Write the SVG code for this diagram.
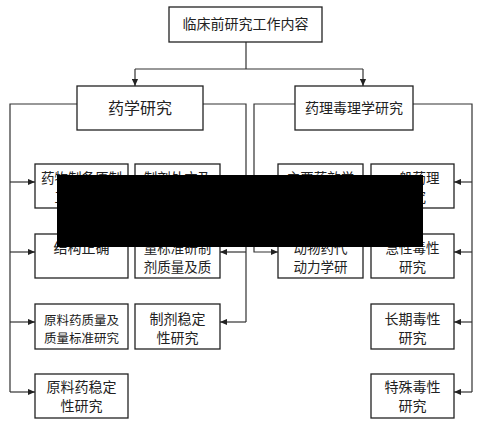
<svg xmlns="http://www.w3.org/2000/svg" width="481" height="423" viewBox="0 0 481 423">
<defs>
<style>
.box{fill:#fff;stroke:#222;stroke-width:1.3}
.t{font-family:"Noto Sans CJK SC","Noto Sans CJK JP",sans-serif;font-size:14px;fill:#222;text-anchor:middle}
.s{font-size:13.5px}
.c{fill:none;stroke:#333;stroke-width:1.2}
</style>
<marker id="a" viewBox="0 0 8 8" refX="8" refY="4" markerWidth="7" markerHeight="7" markerUnits="userSpaceOnUse" orient="auto"><path d="M0,0.5 L8,4 L0,7.5 Z" fill="#222"/></marker>
</defs>
<rect width="481" height="423" fill="#fff"/>
<g id="connectors">
<path class="c" d="M246 42 V69 M135 69 H363"/>
<path class="c" d="M135 69 V86" marker-end="url(#a)"/>
<path class="c" d="M363 69 V86" marker-end="url(#a)"/>
<path class="c" d="M77 104 H10 V392"/>
<path class="c" d="M10 182 H35" marker-end="url(#a)"/>
<path class="c" d="M10 252 H35" marker-end="url(#a)"/>
<path class="c" d="M10 322 H35" marker-end="url(#a)"/>
<path class="c" d="M10 392 H35" marker-end="url(#a)"/>
<path class="c" d="M203 104 H246 V322"/>
<path class="c" d="M246 252 H220" marker-end="url(#a)"/>
<path class="c" d="M246 322 H220" marker-end="url(#a)"/>
<path class="c" d="M295 104 H254 V252 H278" marker-end="url(#a)"/>
<path class="c" d="M413 104 H472 V392"/>
<path class="c" d="M472 182 H454" marker-end="url(#a)"/>
<path class="c" d="M472 252 H454" marker-end="url(#a)"/>
<path class="c" d="M472 322 H454" marker-end="url(#a)"/>
<path class="c" d="M472 392 H454" marker-end="url(#a)"/>
</g>
<g id="root"><rect class="box" x="169" y="7" width="153" height="35"/><text class="t" x="245.5" y="29">临床前研究工作内容</text></g>
<g id="pharm"><rect class="box" x="77" y="86" width="126" height="44"/><text class="t" x="140" y="114" style="font-size:16px">药学研究</text></g>
<g id="tox"><rect class="box" x="295" y="86" width="118" height="44"/><text class="t" x="354" y="113">药理毒理学研究</text></g>
<g id="l1"><rect class="box" x="35" y="164" width="93" height="44"/><text class="t s" x="81.5" y="183">药物制备原制</text><text class="t s" x="81.5" y="202">工艺研究</text></g>
<g id="l2"><rect class="box" x="135" y="164" width="85" height="44"/><text class="t s" x="177.5" y="183">制剂处方及</text><text class="t s" x="177.5" y="202">工艺研究</text></g>
<g id="l3"><rect class="box" x="35" y="234" width="93" height="44"/><text class="t" x="81.5" y="253">结构正确</text></g>
<g id="l4"><rect class="box" x="135" y="234" width="85" height="44"/><text class="t s" x="177.5" y="253">量标准研制</text><text class="t s" x="177.5" y="272">剂质量及质</text></g>
<g id="l5"><rect class="box" x="35" y="304" width="93" height="45"/><text class="t" x="81.5" y="325" style="font-size:12.5px">原料药质量及</text><text class="t" x="81.5" y="343" style="font-size:12.5px">质量标准研究</text></g>
<g id="l6"><rect class="box" x="135" y="304" width="85" height="45"/><text class="t" x="177.5" y="324">制剂稳定</text><text class="t" x="177.5" y="343">性研究</text></g>
<g id="l7"><rect class="box" x="35" y="374" width="93" height="44"/><text class="t" x="81.5" y="392">原料药稳定</text><text class="t" x="81.5" y="411">性研究</text></g>
<g id="r1"><rect class="box" x="278" y="164" width="85" height="44"/><text class="t s" x="320.5" y="183">主要药效学</text><text class="t s" x="320.5" y="202">研究</text></g>
<g id="r2"><rect class="box" x="371" y="164" width="83" height="44"/><text class="t s" x="412.5" y="183">一般药理</text><text class="t s" x="412.5" y="202">研究</text></g>
<g id="r3"><rect class="box" x="278" y="234" width="85" height="44"/><text class="t s" x="320.5" y="253">动物药代</text><text class="t s" x="320.5" y="272">动力学研</text></g>
<g id="r4"><rect class="box" x="371" y="234" width="83" height="44"/><text class="t s" x="412.5" y="253">急性毒性</text><text class="t s" x="412.5" y="272">研究</text></g>
<g id="r5"><rect class="box" x="371" y="304" width="83" height="45"/><text class="t" x="412.5" y="324">长期毒性</text><text class="t" x="412.5" y="343">研究</text></g>
<g id="r6"><rect class="box" x="371" y="374" width="83" height="44"/><text class="t" x="412.5" y="392">特殊毒性</text><text class="t" x="412.5" y="411">研究</text></g>
<rect id="redaction" x="57" y="175" width="366" height="72" fill="#000"/>
</svg>
